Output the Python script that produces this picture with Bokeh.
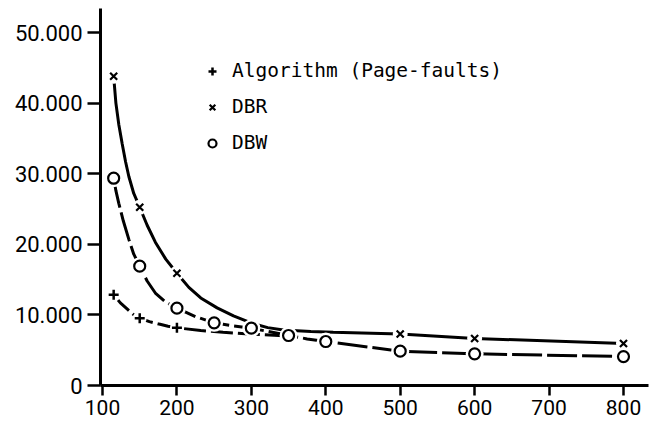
from bokeh.plotting import figure
from bokeh.models import Range1d, FixedTicker, Legend, LegendItem
from bokeh.embed import file_html
from bokeh.resources import INLINE

# ---- data ----
# markers
alg_x = [115, 150, 200]
alg_y = [12850, 9530, 8170]
dbr_x = [115, 150, 200, 500, 600, 800]
dbr_y = [43800, 25250, 15900, 7300, 6660, 5950]
dbw_x = [115, 150, 200, 250, 300, 350, 400, 500, 600, 800]
dbw_y = [29360, 16900, 10950, 8880, 8120, 7080, 6230, 4860, 4490, 4100]

# hand-drawn curves
alg_curve_x = [115, 124, 133, 141, 150, 163, 176, 188, 200, 232, 262, 292, 343]
alg_curve_y = [12850, 11700, 10860, 10100, 9530, 9050, 8700, 8400, 8170, 7790, 7550, 7320, 7050]
dbr_curve_x = [115, 118, 122, 126.5, 131, 135.4, 142, 150, 160, 171, 185, 200, 216, 232, 254,
               276, 303, 322, 343, 380, 410, 500, 600, 800]
dbr_curve_y = [43800, 40000, 36900, 34200, 31700, 29600, 27200, 25250, 22700, 20300, 17900, 15900,
               13900, 12400, 11000, 9850, 8740, 8200, 7850, 7650, 7550, 7300, 6660, 5950]
dbw_curve_x = [115, 118, 121.9, 128, 135.4, 142, 150, 160, 171, 185, 200, 225, 250, 275, 300,
               325, 350, 375, 400, 500, 600, 800]
dbw_curve_y = [29360, 27600, 25800, 23300, 20700, 18600, 16900, 14800, 13100, 11800, 10950, 9750,
               8880, 8450, 8120, 7600, 7080, 6600, 6230, 4860, 4490, 4100]

x_ticks = [100, 200, 300, 400, 500, 600, 700, 800]
y_ticks = [0, 10000, 20000, 30000, 40000, 50000]
y_tick_labels = ["0", "10.000", "20.000", "30.000", "40.000", "50.000"]
legend_labels = ["Algorithm (Page-faults)", "DBR", "DBW"]

p = figure(width=653, height=425, output_backend="svg", toolbar_location=None,
           x_range=Range1d(97.31, 833.6), y_range=Range1d(0, 53400),
           min_border_left=100, min_border_right=5, min_border_top=8, min_border_bottom=40)
p.outline_line_color = None
p.xgrid.visible = False
p.ygrid.visible = False
p.background_fill_color = "white"

for ax in (p.xaxis[0], p.yaxis[0]):
    ax.axis_line_width = 3
    ax.axis_line_color = "black"
    ax.major_tick_line_width = 2.5
    ax.major_tick_line_color = "black"
    ax.minor_tick_line_color = None
    ax.major_tick_in = 0
    ax.major_label_text_font = "Roboto"
    ax.major_label_text_color = "black"

p.xaxis.ticker = FixedTicker(ticks=x_ticks)
p.xaxis.major_tick_out = 10
p.xaxis.major_label_standoff = 4
p.xaxis.major_label_text_font_size = "21px"

p.yaxis.ticker = FixedTicker(ticks=y_ticks)
p.yaxis.major_label_overrides = {t: l for t, l in zip(y_ticks, y_tick_labels)}
p.yaxis.major_tick_out = 13
p.yaxis.major_label_standoff = 5
p.yaxis.major_label_text_font_size = "22px"

# curves
p.line(dbr_curve_x, dbr_curve_y, line_color="black", line_width=3)
p.line(dbw_curve_x, dbw_curve_y, line_color="black", line_width=3, line_dash="30 5")
p.line(alg_curve_x, alg_curve_y, line_color="black", line_width=3, line_dash="22 5")

# white halos break lines around markers
p.scatter(dbr_x, dbr_y, marker="circle", size=15, fill_color="white", line_color=None)
p.scatter(dbw_x, dbw_y, marker="circle", size=18, fill_color="white", line_color=None)
p.scatter(alg_x, alg_y, marker="circle", size=14, fill_color="white", line_color=None)

r_alg = p.scatter(alg_x, alg_y, marker="cross", size=10, line_color="black", line_width=2.5)
r_dbr = p.scatter(dbr_x, dbr_y, marker="x", size=10, line_color="black", line_width=2.2)
r_dbw = p.scatter(dbw_x, dbw_y, marker="circle", size=11, fill_color="white",
                  line_color="black", line_width=2.2)

legend = Legend(items=[LegendItem(label=legend_labels[0], renderers=[r_alg]),
                       LegendItem(label=legend_labels[1], renderers=[r_dbr]),
                       LegendItem(label=legend_labels[2], renderers=[r_dbw])],
                location=(102, 231), padding=0, margin=0, spacing=13,
                glyph_width=20, glyph_height=22, label_height=22, label_standoff=10,
                label_text_font="DejaVu Sans Mono", label_text_font_size="19.5px",
                label_text_color="black",
                border_line_color=None, background_fill_alpha=0)
p.add_layout(legend)

open("out.html", "w").write(file_html(p, INLINE))
